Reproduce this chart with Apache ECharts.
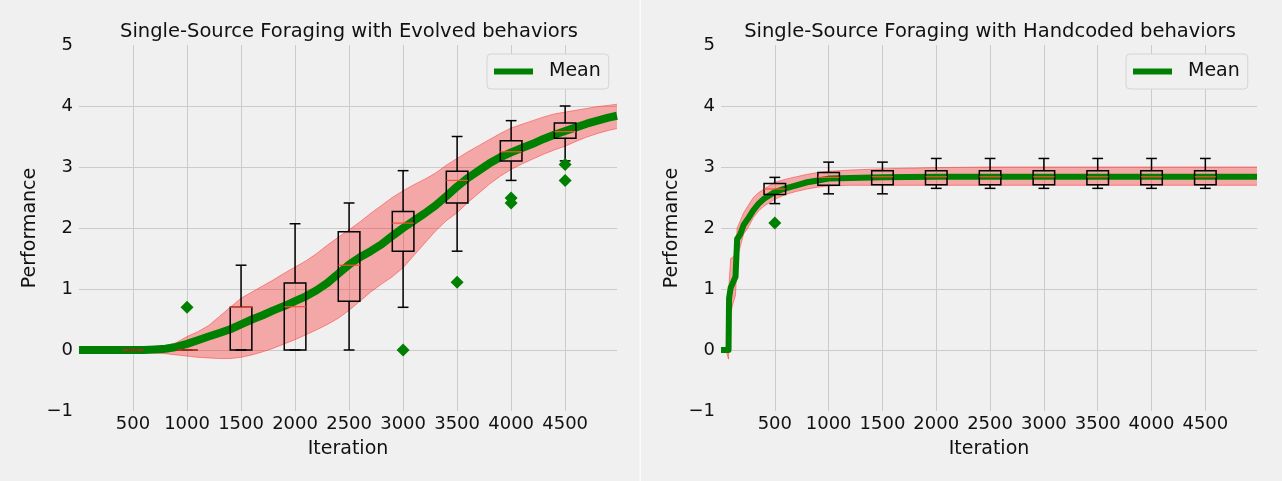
<!DOCTYPE html>
<html>
<head>
<meta charset="utf-8">
<script src="https://cdn.jsdelivr.net/npm/echarts@6/dist/echarts.min.js"></script>
<style>
html,body{margin:0;padding:0;background:#f0f0f0;}
#chart{width:1282px;height:481px;}
</style>
</head>
<body>
<div id="chart"></div>
<script>
// ---------------- DATA ----------------
const TITLE_LEFT = 'Single-Source Foraging with Evolved behaviors';
const TITLE_RIGHT = 'Single-Source Foraging with Handcoded behaviors';
const X_LABEL = 'Iteration';
const Y_LABEL = 'Performance';
const LEGEND_LABEL = 'Mean';

// Left panel (evolved): iteration samples
const LEFT_ITER = [0,100,200,300,400,500,600,700,800,900,
  1000,1100,1200,1300,1400,1500,1600,1700,1800,1900,
  2000,2100,2200,2300,2400,2500,2600,2700,2800,2900,
  3000,3100,3200,3300,3400,3500,3600,3700,3800,3900,
  4000,4100,4200,4300,4400,4500,4600,4700,4800,4900,4980];
const LEFT_MEAN = [0,0,0,0,0,0,0,0.01,0.02,0.05,
  0.1,0.16,0.22,0.28,0.34,0.42,0.5,0.57,0.65,0.72,
  0.8,0.88,0.98,1.1,1.25,1.4,1.52,1.62,1.73,1.87,
  2.0,2.12,2.24,2.37,2.52,2.68,2.82,2.94,3.06,3.16,
  3.24,3.31,3.38,3.46,3.53,3.59,3.65,3.71,3.76,3.81,3.84];
const LEFT_UPPER = [0.03,0.03,0.04,0.04,0.05,0.05,0.04,0.05,0.06,0.12,
  0.22,0.3,0.4,0.55,0.7,0.85,0.95,1.05,1.15,1.26,
  1.36,1.46,1.58,1.72,1.85,1.97,2.1,2.24,2.37,2.5,
  2.61,2.71,2.8,2.9,3.03,3.14,3.25,3.35,3.45,3.55,
  3.64,3.7,3.76,3.82,3.87,3.9,3.93,3.96,3.99,4.01,4.03];
const LEFT_LOWER = [-0.03,-0.03,-0.04,-0.04,-0.05,-0.05,-0.04,-0.05,-0.06,-0.08,
  -0.1,-0.12,-0.13,-0.14,-0.14,-0.12,-0.08,-0.03,0.03,0.1,
  0.17,0.25,0.33,0.42,0.52,0.65,0.8,0.95,1.08,1.2,
  1.35,1.55,1.75,1.95,2.12,2.25,2.42,2.57,2.72,2.85,
  2.96,3.05,3.13,3.21,3.28,3.34,3.42,3.49,3.55,3.6,3.63];

const BOX_X = [500,1000,1500,2000,2500,3000,3500,4000,4500];
const LEFT_BOX_LOW  = [0,0,0,0,0,0.70,1.62,2.78,3.10];
const LEFT_BOX_Q1   = [0,0,0,0,0.80,1.62,2.41,3.10,3.47];
const LEFT_BOX_MED  = [0,0,0.70,0.71,1.39,2.08,2.78,3.25,3.58];
const LEFT_BOX_Q3   = [0,0,0.70,1.10,1.94,2.27,2.93,3.43,3.72];
const LEFT_BOX_HIGH = [0,0,1.39,2.07,2.41,2.94,3.50,3.76,4.00];
const LEFT_OUT_X = [1000,3000,3500,4000,4000,4500,4500];
const LEFT_OUT_Y = [0.70,0,1.11,2.49,2.41,3.04,2.78];

// Right panel (handcoded)
const RIGHT_ITER = [0,50,70,75,90,110,135,150,180,210,
  250,300,350,400,500,600,700,800,900,1000,
  1200,1500,2000,2500,3000,3500,4000,4500,4980];
const RIGHT_MEAN = [0,0,0,0.85,1.02,1.1,1.2,1.82,1.9,2.05,
  2.15,2.29,2.4,2.48,2.59,2.65,2.7,2.75,2.78,2.81,
  2.82,2.83,2.84,2.84,2.84,2.84,2.84,2.84,2.84];
const RIGHT_UPPER = [0.02,0.03,0.05,1.1,1.5,1.52,1.58,2.0,2.12,2.25,
  2.36,2.5,2.58,2.64,2.75,2.8,2.84,2.88,2.91,2.93,
  2.95,2.97,2.99,3.0,3.0,3.0,3.0,3.0,3.0];
const RIGHT_LOWER = [-0.02,-0.03,-0.15,0.4,0.6,0.75,0.9,1.5,1.7,1.9,
  2.0,2.17,2.28,2.36,2.47,2.55,2.6,2.64,2.67,2.69,
  2.7,2.7,2.7,2.7,2.7,2.7,2.7,2.7,2.7];
const RIGHT_BOX_LOW  = [2.40,2.56,2.56,2.65,2.65,2.65,2.65,2.65,2.65];
const RIGHT_BOX_Q1   = [2.55,2.70,2.71,2.71,2.71,2.71,2.71,2.71,2.71];
const RIGHT_BOX_MED  = [2.64,2.83,2.84,2.84,2.84,2.84,2.84,2.84,2.84];
const RIGHT_BOX_Q3   = [2.73,2.91,2.94,2.94,2.94,2.94,2.94,2.94,2.94];
const RIGHT_BOX_HIGH = [2.83,3.08,3.08,3.14,3.14,3.14,3.14,3.14,3.14];
const RIGHT_OUT_X = [500];
const RIGHT_OUT_Y = [2.08];

const X_MAX = 4980;
const BOX_WIDTH = 200;   // in iterations
const CAP_WIDTH = 100;

// ---------------- STYLE ----------------
const GREEN = '#008000';
const TXT = '#111111';
const FONT = 'DejaVu Sans';

const zip = (xs, ys) => xs.map((x, i) => [x, ys[i]]);
const boxData = (lo, q1, md, q3, hi) => BOX_X.map((x, i) => [x, lo[i], q1[i], md[i], q3[i], hi[i]]);

function renderBand(params, api) {
  if (params.dataIndexInside !== 0) return null;
  const n = params.dataInsideLength;
  const top = [], bot = [];
  for (let i = 0; i < n; i++) {
    const x = api.value(0, i);
    top.push(api.coord([x, api.value(2, i)]));
    bot.push(api.coord([x, api.value(1, i)]));
  }
  const pts = top.concat(bot.reverse());
  return {type: 'polygon', shape: {points: pts}, style: {fill: 'rgba(255,0,0,0.3)'}};
}

function renderBox(params, api) {
  const x = api.value(0);
  const pLo = api.coord([x, api.value(1)]);
  const pQ1 = api.coord([x, api.value(2)]);
  const pMd = api.coord([x, api.value(3)]);
  const pQ3 = api.coord([x, api.value(4)]);
  const pHi = api.coord([x, api.value(5)]);
  const half = api.size([BOX_WIDTH, 0])[0] / 2;
  const cap = api.size([CAP_WIDTH, 0])[0] / 2;
  const xc = pMd[0];
  const black = {stroke: '#000', lineWidth: 1.5, fill: 'none'};
  return {
    type: 'group',
    children: [
      {type: 'line', shape: {x1: xc, y1: pQ3[1], x2: xc, y2: pHi[1]}, style: black},
      {type: 'line', shape: {x1: xc, y1: pQ1[1], x2: xc, y2: pLo[1]}, style: black},
      {type: 'line', shape: {x1: xc - cap, y1: pHi[1], x2: xc + cap, y2: pHi[1]}, style: black},
      {type: 'line', shape: {x1: xc - cap, y1: pLo[1], x2: xc + cap, y2: pLo[1]}, style: black},
      {type: 'rect', shape: {x: xc - half, y: pQ3[1], width: half * 2, height: pQ1[1] - pQ3[1]}, style: black},
      {type: 'line', shape: {x1: xc - half, y1: pMd[1], x2: xc + half, y2: pMd[1]}, style: {stroke: '#fc4f30', lineWidth: 1.2}}
    ]
  };
}

function panelSeries(idx, iter, mean, upper, lower, boxes, outX, outY, meanWidth) {
  const edge = {color: 'rgba(255,60,60,0.55)', width: 1};
  return [
    {type: 'custom', xAxisIndex: idx, yAxisIndex: idx, data: iter.map((x, i) => [x, lower[i], upper[i]]),
     renderItem: renderBand, encode: {x: 0, y: [1, 2]}, silent: true, z: 1},
    {type: 'line', xAxisIndex: idx, yAxisIndex: idx, data: zip(iter, upper), symbol: 'none', lineStyle: edge, silent: true, z: 1},
    {type: 'line', xAxisIndex: idx, yAxisIndex: idx, data: zip(iter, lower), symbol: 'none', lineStyle: edge, silent: true, z: 1},
    {name: LEGEND_LABEL, type: 'line', xAxisIndex: idx, yAxisIndex: idx, data: zip(iter, mean), symbol: 'none',
     color: GREEN, lineStyle: {color: GREEN, width: meanWidth, join: 'round'}, z: 2},
    {type: 'custom', xAxisIndex: idx, yAxisIndex: idx, data: boxes, renderItem: renderBox,
     encode: {x: 0, y: [1, 2, 3, 4, 5]}, z: 3, silent: true},
    {type: 'scatter', xAxisIndex: idx, yAxisIndex: idx, data: zip(outX, outY), symbol: 'diamond', symbolSize: 13,
     itemStyle: {color: GREEN, opacity: 1}, z: 4, silent: true}
  ];
}

const xAxisBase = (gi) => ({
  type: 'value', gridIndex: gi, min: 0, max: X_MAX, interval: 500,
  name: X_LABEL, nameLocation: 'middle', nameGap: 29,
  nameTextStyle: {fontSize: 19, color: TXT, fontFamily: FONT},
  axisLine: {show: false}, axisTick: {show: false},
  axisLabel: {fontSize: 18, color: TXT, fontFamily: FONT, margin: 4, showMinLabel: false, showMaxLabel: false,
    formatter: v => String(v)},
  splitLine: {show: true, showMinLine: false, showMaxLine: false, lineStyle: {color: '#cbcbcb', width: 1}}
});
const yAxisBase = (gi) => ({
  type: 'value', gridIndex: gi, min: -1, max: 5, interval: 1,
  name: Y_LABEL, nameLocation: 'middle', nameGap: 39,
  nameTextStyle: {fontSize: 19, color: TXT, fontFamily: FONT},
  axisLine: {show: false}, axisTick: {show: false},
  axisLabel: {fontSize: 18, color: TXT, fontFamily: FONT, margin: 6,
    formatter: v => (v < 0 ? '\u2212' + Math.abs(v) : String(v))},
  splitLine: {show: true, showMinLine: false, showMaxLine: false, lineStyle: {color: '#cbcbcb', width: 1}}
});

const legendBase = (left) => ({
  data: [LEGEND_LABEL], left: left, top: 54, orient: 'horizontal',
  icon: 'rect', itemWidth: 39, itemHeight: 6,
  padding: [8, 8, 8, 7],
  backgroundColor: '#f0f0f0', borderColor: '#d4d4d4', borderWidth: 1, borderRadius: 4,
  textStyle: {fontSize: 19, color: TXT, fontFamily: FONT, padding: [0, 0, 0, 11]},
  selectedMode: false
});

const chart = echarts.init(document.getElementById('chart'), null, {renderer: 'canvas'});
chart.setOption({
  backgroundColor: '#f0f0f0',
  animation: false,
  textStyle: {fontFamily: FONT},
  title: [
    {text: TITLE_LEFT, left: 344, top: 17, textAlign: 'center',
     textStyle: {fontSize: 19.5, fontWeight: 'normal', color: TXT, fontFamily: FONT}},
    {text: TITLE_RIGHT, left: 985, top: 17, textAlign: 'center',
     textStyle: {fontSize: 19.5, fontWeight: 'normal', color: TXT, fontFamily: FONT}}
  ],
  legend: [legendBase(487), legendBase(1126)],
  grid: [
    {left: 79, top: 45, width: 538, height: 366},
    {left: 721, top: 45, width: 536, height: 366}
  ],
  xAxis: [xAxisBase(0), xAxisBase(1)],
  yAxis: [yAxisBase(0), yAxisBase(1)],
  graphic: [
    {type: 'rect', shape: {x: 639.5, y: 0, width: 1.5, height: 481}, style: {fill: '#fcfcfc'}, silent: true}
  ],
  series: [
    ...panelSeries(0, LEFT_ITER, LEFT_MEAN, LEFT_UPPER, LEFT_LOWER,
      boxData(LEFT_BOX_LOW, LEFT_BOX_Q1, LEFT_BOX_MED, LEFT_BOX_Q3, LEFT_BOX_HIGH), LEFT_OUT_X, LEFT_OUT_Y, 8),
    ...panelSeries(1, RIGHT_ITER, RIGHT_MEAN, RIGHT_UPPER, RIGHT_LOWER,
      boxData(RIGHT_BOX_LOW, RIGHT_BOX_Q1, RIGHT_BOX_MED, RIGHT_BOX_Q3, RIGHT_BOX_HIGH), RIGHT_OUT_X, RIGHT_OUT_Y, 6)
  ]
});
</script>
</body>
</html>
